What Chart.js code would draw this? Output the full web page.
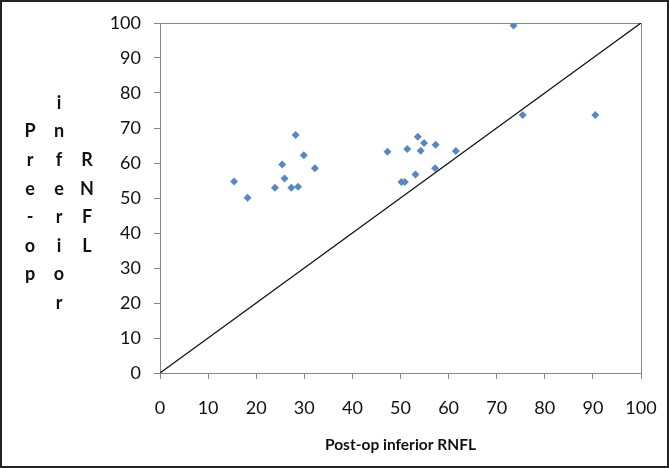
<!DOCTYPE html>
<html>
<head>
<meta charset="utf-8">
<script src="https://cdn.jsdelivr.net/npm/chart.js@4.4.1/dist/chart.umd.min.js"></script>
<style>
  body { margin: 0; background: #fff; }
  #wrap { width: 669px; height: 468px; }
</style>
</head>
<body>
<div id="wrap"><canvas id="myChart" width="669" height="468"></canvas></div>
<script>
// valores: post-op (eje x) y pre-op (eje y) RNFL inferior
const postOp = [28.2, 29.9, 25.4, 32.2, 15.4, 25.9, 23.9, 27.3, 28.7, 18.2,
                47.3, 51.4, 53.6, 54.9, 54.2, 57.3, 61.5, 53.1, 57.2, 50.2, 50.9,
                73.5, 75.4, 90.5];
const preOp = [68.0, 62.2, 59.6, 58.5, 54.7, 55.6, 52.9, 52.9, 53.2, 50.1,
               63.2, 64.0, 67.5, 65.7, 63.5, 65.2, 63.4, 56.7, 58.5, 54.6, 54.6,
               99.3, 73.7, 73.7];
// linea de referencia y = x
const lineX = [0, 100];
const lineY = [0, 100];
const xTitle = 'Post-op inferior RNFL';
// el titulo del eje y va en columnas de letras verticales
const yTitleCols = ['Pre-op', 'inferior', 'RNFL'];

const fontName = 'Lato, "Open Sans", sans-serif';

// plugin para el marco de la imagen, el borde del area y el titulo vertical
const extras = {
  id: 'extras',
  beforeDatasetsDraw(chart) {
    const {ctx, chartArea: a} = chart;
    ctx.save();
    ctx.strokeStyle = '#868686';
    ctx.lineWidth = 1;
    ctx.strokeRect(a.left + 0.5, a.top + 0.5, a.right - a.left, a.bottom - a.top);
    ctx.restore();
  },
  afterDraw(chart) {
    const ctx = chart.ctx;
    ctx.save();
    ctx.font = 'bold 18px ' + fontName;
    ctx.fillStyle = '#111';
    ctx.textAlign = 'center';
    ctx.textBaseline = 'middle';
    const colX = [30, 59, 87];
    const step = 28.6;
    const midY = 203;
    yTitleCols.forEach((word, c) => {
      const letters = word.split('');
      const y0 = midY - (letters.length - 1) * step / 2;
      letters.forEach((ch, i) => ctx.fillText(ch, colX[c], y0 + i * step));
    });
    // marco de la imagen
    ctx.strokeStyle = '#222';
    ctx.lineWidth = 2;
    ctx.strokeRect(1, 1, chart.width - 2, chart.height - 2);
    ctx.restore();
  }
};

const ctx = document.getElementById('myChart');
new Chart(ctx, {
  type: 'scatter',
  data: {
    datasets: [{
      label: 'RNFL',
      data: postOp.map((x, i) => ({x: x, y: preOp[i]})),
      pointStyle: 'rectRot',
      pointRadius: 4,
      backgroundColor: '#5a87bd',
      borderColor: '#5a87bd',
      borderWidth: 0
    }, {
      type: 'line',
      label: 'y = x',
      data: lineX.map((x, i) => ({x: x, y: lineY[i]})),
      borderColor: '#111',
      borderWidth: 1.3,
      pointRadius: 0,
      fill: false
    }]
  },
  options: {
    responsive: false,
    animation: false,
    layout: { padding: { top: 23, right: 28, left: 0, bottom: 0 } },
    plugins: { legend: { display: false }, tooltip: { enabled: false } },
    scales: {
      x: {
        type: 'linear', min: 0, max: 100,
        afterFit: (s) => { s.height = 95; s.paddingLeft = 0; s.paddingRight = 0; },
        ticks: { stepSize: 10, color: '#111', padding: 18, font: { family: fontName, size: 18 } },
        grid: { drawOnChartArea: false, drawTicks: true, tickLength: 6, color: '#868686' },
        border: { color: '#868686' },
        title: { display: true, text: xTitle, color: '#111', padding: { top: 0, bottom: 14 },
                 font: { family: fontName, size: 15.5, weight: 'bold' } }
      },
      y: {
        type: 'linear', min: 0, max: 100,
        afterFit: (s) => { s.width = 160; s.paddingTop = 0; s.paddingBottom = 0; },
        ticks: { stepSize: 10, color: '#111', padding: 13, font: { family: fontName, size: 18 } },
        grid: { drawOnChartArea: false, drawTicks: true, tickLength: 6, color: '#868686' },
        border: { color: '#868686' }
      }
    }
  },
  plugins: [extras]
});
</script>
</body>
</html>
